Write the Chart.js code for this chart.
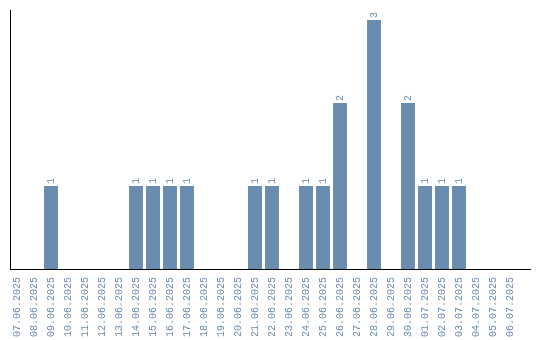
<!DOCTYPE html>
<html>
<head>
<meta charset="utf-8">
<script src="https://cdn.jsdelivr.net/npm/chart.js@4"></script>
<style>
  html, body { margin: 0; padding: 0; background: #fff; }
  #wrap { width: 540px; height: 340px; }
</style>
</head>
<body>
<div id="wrap"><canvas id="chart"></canvas></div>
<script>
const days = [
  "07.06.2025", "08.06.2025", "09.06.2025", "10.06.2025", "11.06.2025",
  "12.06.2025", "13.06.2025", "14.06.2025", "15.06.2025", "16.06.2025",
  "17.06.2025", "18.06.2025", "19.06.2025", "20.06.2025", "21.06.2025",
  "22.06.2025", "23.06.2025", "24.06.2025", "25.06.2025", "26.06.2025",
  "27.06.2025", "28.06.2025", "29.06.2025", "30.06.2025", "01.07.2025",
  "02.07.2025", "03.07.2025", "04.07.2025", "05.07.2025", "06.07.2025"
]
const counts = [
  0, 0, 1, 0, 0,
  0, 0, 1, 1, 1,
  1, 0, 0, 0, 1,
  1, 0, 1, 1, 2,
  0, 3, 0, 2, 1,
  1, 1, 0, 0, 0
]

const barColor = "#6a8caf"
const labelFont = "'Liberation Mono', 'DejaVu Sans Mono', monospace"

// value labels above bars + the two black axis lines
const extras = {
  id: "extras",
  afterDatasetsDraw(chart) {
    const ctx = chart.ctx
    const area = chart.chartArea
    const meta = chart.getDatasetMeta(0)
    ctx.save()
    ctx.font = "10px " + labelFont
    ctx.fillStyle = barColor
    ctx.textAlign = "left"
    ctx.textBaseline = "middle"
    meta.data.forEach((bar, i) => {
      const v = counts[i]
      if (!v) return
      ctx.save()
      ctx.translate(bar.x, bar.y - 2)
      ctx.rotate(-Math.PI / 2)
      ctx.fillText(String(v), 0, 0)
      ctx.restore()
    })

    ctx.strokeStyle = "#000"
    ctx.lineWidth = 1
    ctx.beginPath()
    ctx.moveTo(10.5, area.top)
    ctx.lineTo(10.5, area.bottom + 1)
    ctx.moveTo(10, area.bottom + 0.5)
    ctx.lineTo(531, area.bottom + 0.5)
    ctx.stroke()
    ctx.restore()
  }
}

new Chart(document.getElementById("chart"), {
  type: "bar",
  data: {
    labels: days,
    datasets: [
      {
        data: counts,
        backgroundColor: barColor,
        borderWidth: 0,
        categoryPercentage: 1,
        barPercentage: 0.82,
      },
    ],
  },
  options: {
    responsive: true,
    maintainAspectRatio: false,
    animation: false,
    layout: { padding: { left: 8.5, right: 21.5, top: 10, bottom: 0 } },
    plugins: {
      legend: { display: false },
      tooltip: { enabled: false },
    },
    scales: {
      x: {
        afterFit(scale) { scale.height = 71 },
        grid: { display: false, drawTicks: false },
        border: { display: false },
        ticks: {
          autoSkip: false,
          maxRotation: 90,
          minRotation: 90,
          padding: 8,
          color: barColor,
          font: { family: labelFont, size: 10 },
        },
      },
      y: {
        min: 0,
        max: 3.12,
        afterFit(scale) { scale.width = 0 },
        grid: { display: false, drawTicks: false },
        border: { display: false },
        ticks: { display: false },
      },
    },
  },
  plugins: [extras],
})
</script>
</body>
</html>
